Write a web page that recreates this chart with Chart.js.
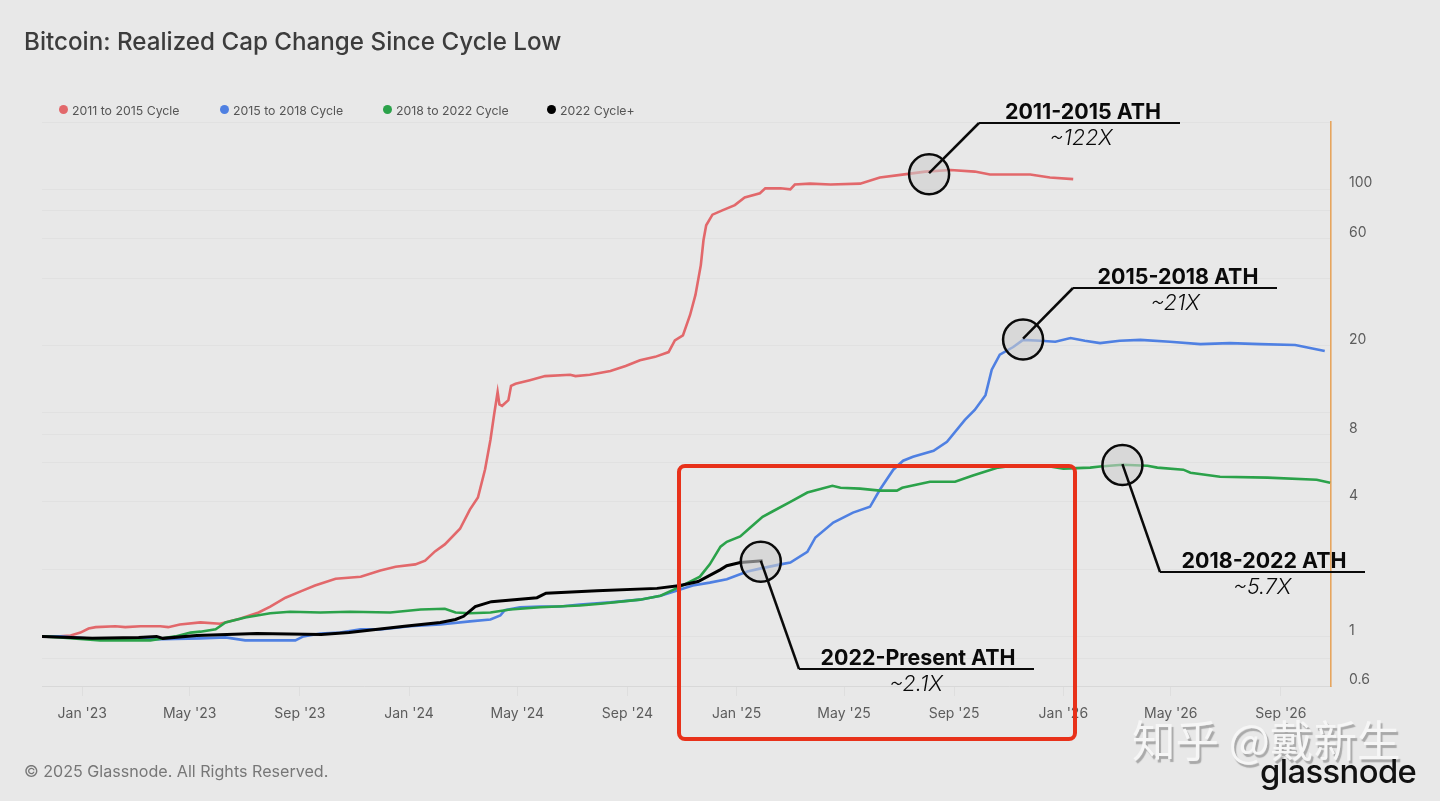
<!DOCTYPE html>
<html>
<head>
<meta charset="utf-8">
<title>Bitcoin: Realized Cap Change Since Cycle Low</title>
<script src="https://cdn.jsdelivr.net/npm/chart.js@4"></script>
<style>
html, body { margin: 0; padding: 0; background: #e8e8e8; width: 1440px; height: 801px; overflow: hidden; font-family: Inter, sans-serif; }
canvas { position: absolute; left: 0; top: 0; }
.txt { position: absolute; white-space: nowrap; }
#title { left: 24px; top: 27px; font-size: 24.2px; font-weight: 500; color: #3c3c3c; line-height: 30px; }
#copy { left: 24px; top: 761px; font-size: 16.1px; color: #777; line-height: 20px; }
#mark { left: 1132px; top: 710px; font-family: "Noto Sans CJK SC"; font-size: 43.5px; line-height: 58px; color: #f6f6f6; text-shadow: 2px 3px 1px #a9a9a9; }
#logo { left: 1260px; top: 747px; font-size: 32.8px; font-weight: 500; color: #111; letter-spacing: -0.6px; line-height: 48px; }
.leg { top: 103px; font-size: 12.3px; color: #555; line-height: 16px; }
.dot { position: absolute; top: 105px; width: 9px; height: 9px; border-radius: 50%; }
.big { font-size: 21.4px; font-weight: 700; color: #0a0a0a; line-height: 28px; transform: translateX(-50%); }
.sub { font-size: 21.5px; font-weight: 300; font-style: italic; color: #0a0a0a; line-height: 28px; transform: translateX(-50%); }
</style>
</head>
<body>
<canvas id="chart" width="1440" height="801"></canvas>
<div class="txt" id="title">Bitcoin: Realized Cap Change Since Cycle Low</div>
<div class="txt" id="mark">知乎 @戴新生</div>
<div class="txt" id="copy">© 2025 Glassnode. All Rights Reserved.</div>
<div class="txt" id="logo">glassnode</div>
<script>
// x values are days since 1 Jan 2023, y values are multiples of the cycle low
const seriesNames = ['2011 to 2015 Cycle', '2015 to 2018 Cycle', '2018 to 2022 Cycle', '2022 Cycle+']
const seriesColours = ['#e2686b', '#4f80e2', '#2ba24a', '#000000']

const redDays = [-45,-25,-13,-2,7,15,37,48,65,87,96,109,132,154,176,197,210,227,244,260,283,311,333,350,372,383,394,405,422,433,442,450,456,460,464,466,469,476,479,484,500,517,545,551,567,590,607,623,640,655,662,671,679,685,691,694,697,704,715,729,740,757,763,780,791,796,813,836,869,891,914,942,970,997,1014,1037,1059,1081,1107]
const redValues = [1,1,1.01,1.04,1.085,1.1,1.11,1.1,1.11,1.11,1.1,1.13,1.155,1.14,1.2,1.28,1.36,1.49,1.59,1.69,1.81,1.85,1.97,2.05,2.1,2.18,2.4,2.58,3.03,3.69,4.18,5.59,7.58,9.78,12.4,10.9,10.75,11.4,13.2,13.5,14,14.6,14.8,14.6,14.8,15.4,16.2,17.2,17.8,18.7,21.1,22.2,27.4,33.7,45.8,59.3,69,77,80.5,85,92,96,101,101,100,105,106,105,106,113,116,120,122,120,116.5,116.5,116.5,113,111]

const blueDays = [-45,-25,20,76,132,160,182,210,238,247,266,288,311,333,366,400,433,456,467,472,489,512,534,556,590,623,646,662,668,682,701,720,743,757,780,791,810,819,839,861,880,891,906,917,928,951,966,986,997,1009,1016,1025,1040,1051,1070,1087,1104,1120,1137,1159,1182,1215,1249,1282,1316,1355,1366,1377,1388]
const blueValues = [1,1,0.97,0.97,0.98,0.99,0.96,0.96,0.96,1,1.03,1.04,1.075,1.075,1.11,1.13,1.167,1.19,1.24,1.31,1.35,1.36,1.36,1.39,1.42,1.46,1.52,1.59,1.62,1.69,1.74,1.8,1.95,2.01,2.1,2.14,2.39,2.77,3.23,3.58,3.8,4.53,5.57,6.11,6.36,6.76,7.42,9.3,10.3,12,15.6,18.2,19.7,21.2,21,20.8,21.6,21,20.5,21,21.2,20.8,20.3,20.5,20.3,20.1,19.7,19.3,18.9]

const greenDays = [-45,-25,20,76,104,121,132,149,160,182,210,232,266,299,344,378,405,417,433,456,478,512,556,579,623,646,668,690,701,713,720,735,746,760,771,791,810,838,847,869,891,910,916,947,975,995,1023,1033,1081,1096,1126,1137,1162,1190,1201,1230,1238,1271,1324,1379,1394]
const greenValues = [1,0.99,0.96,0.96,1,1.04,1.05,1.075,1.155,1.215,1.27,1.29,1.28,1.29,1.28,1.32,1.33,1.28,1.27,1.28,1.32,1.35,1.375,1.4,1.46,1.52,1.67,1.85,2.1,2.52,2.65,2.8,3.06,3.43,3.62,4,4.4,4.72,4.62,4.58,4.49,4.49,4.62,4.92,4.92,5.24,5.69,5.75,5.75,5.63,5.69,5.75,5.86,5.8,5.69,5.57,5.4,5.18,5.13,5.02,4.87]

const blackDays = [-45,11,63,83,90,128,195,267,298,360,400,417,426,439,457,508,518,575,642,668,688,713,720,735,760]
const blackValues = [1,0.98,0.99,1,0.98,1.01,1.03,1.02,1.04,1.11,1.155,1.19,1.23,1.36,1.43,1.49,1.56,1.6,1.64,1.69,1.76,1.99,2.07,2.14,2.18]

const xTickDays = [0,120,243,365,486,609,731,851,974,1096,1216,1339]
const xTickLabels = ["Jan '23","May '23","Sep '23","Jan '24","May '24","Sep '24","Jan '25","May '25","Sep '25","Jan '26","May '26","Sep '26"]
const yGridValues = [0.6,0.8,1,2,4,6,8,10,20,40,60,80,100,200]
const yTickLabels = [0.6,1,4,8,20,60,100]

const calloutTitles = ['2011-2015 ATH','2015-2018 ATH','2018-2022 ATH','2022-Present ATH']
const calloutMultiples = ['~122X','~21X','~5.7X','~2.1X']
const calloutDays = [946,1051,1162,758]
const calloutValues = [118,21.5,5.9,2.18]
// page pixels: elbow of leader, end of shelf, centre of the two labels
const calloutElbows = [[979,123],[1073,288],[1160,572],[799,669]]
const calloutEnds = [1180,1277,1365,1034]
const calloutTextX = [[1083,1081],[1178,1175],[1264,1262],[918,916]]

function toPoints(days, values) {
    return days.map((d, i) => ({x: d, y: values[i]}))
}

function lineSet(i, days, values) {
    return {
        label: seriesNames[i],
        data: toPoints(days, values),
        borderColor: seriesColours[i],
        borderWidth: i == 3 ? 3 : 2.6,
        pointRadius: 0,
        tension: 0,
        order: 3 - i
    }
}

const calloutPlugin = {
    id: 'callouts',
    afterDraw(chart) {
        const c = chart.ctx
        c.save()
        // red box from the annotated screenshot, sits above tick labels
        c.strokeStyle = '#e8311a'
        c.lineWidth = 4
        c.beginPath()
        c.roundRect(679, 466, 396, 273, 6)
        c.stroke()
        calloutDays.forEach((d, i) => {
            const px = chart.scales.x.getPixelForValue(d)
            const py = chart.scales.y.getPixelForValue(calloutValues[i])
            c.beginPath()
            c.arc(px, py + 1, 20, 0, Math.PI * 2)
            c.fillStyle = 'rgba(205,205,205,0.6)'
            c.fill()
            c.strokeStyle = '#0a0a0a'
            c.lineWidth = 2.5
            c.stroke()
            c.beginPath()
            c.moveTo(px, py)
            c.lineTo(calloutElbows[i][0], calloutElbows[i][1])
            c.stroke()
            c.beginPath()
            c.lineWidth = 1.8
            c.moveTo(calloutElbows[i][0], calloutElbows[i][1])
            c.lineTo(calloutEnds[i], calloutElbows[i][1])
            c.stroke()
        })
        c.restore()
    }
}

new Chart(document.getElementById('chart').getContext('2d'), {
    type: 'line',
    data: {
        datasets: [
            lineSet(0, redDays, redValues),
            lineSet(1, blueDays, blueValues),
            lineSet(2, greenDays, greenValues),
            lineSet(3, blackDays, blackValues)
        ]
    },
    options: {
        responsive: false,
        animation: false,
        layout: {padding: {left: 42, top: 122, right: 0, bottom: 0}},
        plugins: {legend: {display: false}, tooltip: {enabled: false}},
        scales: {
            x: {
                type: 'linear',
                min: -45,
                max: 1395,
                afterFit(s) { s.height = 115 },
                afterBuildTicks(s) { s.ticks = xTickDays.map(v => ({value: v})) },
                border: {color: '#d8d8d8', width: 1},
                grid: {drawOnChartArea: false, color: '#dedede', tickLength: 10},
                ticks: {
                    autoSkip: false,
                    maxRotation: 0,
                    padding: 9,
                    color: '#5c5c5c',
                    font: {family: 'Inter', size: 14},
                    callback: v => xTickLabels[xTickDays.indexOf(v)]
                }
            },
            y: {
                type: 'logarithmic',
                position: 'right',
                min: 0.6,
                max: 200,
                afterFit(s) { s.width = 109 },
                afterBuildTicks(s) { s.ticks = yGridValues.map(v => ({value: v})) },
                border: {color: '#e6a55e', width: 1.6},
                grid: {color: '#e1e1e1', drawTicks: false},
                ticks: {
                    autoSkip: false,
                    padding: 18,
                    labelOffset: -6,
                    crossAlign: 'near',
                    color: '#5c5c5c',
                    font: {family: 'Inter', size: 14},
                    callback: v => yTickLabels.includes(v) ? String(v) : ''
                }
            }
        }
    },
    plugins: [calloutPlugin]
})

// legend and annotation labels are plain text over the canvas
const legendDots = [63, 224, 387, 551]
seriesNames.forEach((name, i) => {
    const dot = document.createElement('div')
    dot.className = 'dot'
    dot.style.left = (legendDots[i] - 4.5) + 'px'
    dot.style.background = seriesColours[i]
    document.body.appendChild(dot)
    const t = document.createElement('div')
    t.className = 'txt leg'
    t.style.left = (legendDots[i] + 9) + 'px'
    t.textContent = name
    document.body.appendChild(t)
})

calloutTitles.forEach((name, i) => {
    const y = calloutElbows[i][1]
    const a = document.createElement('div')
    a.className = 'txt big'
    a.style.left = calloutTextX[i][0] + 'px'
    a.style.top = (y - 26) + 'px'
    a.textContent = name
    document.body.appendChild(a)
    const b = document.createElement('div')
    b.className = 'txt sub'
    b.style.left = calloutTextX[i][1] + 'px'
    b.style.top = (y + 0) + 'px'
    b.textContent = calloutMultiples[i]
    document.body.appendChild(b)
})
</script>
</body>
</html>
